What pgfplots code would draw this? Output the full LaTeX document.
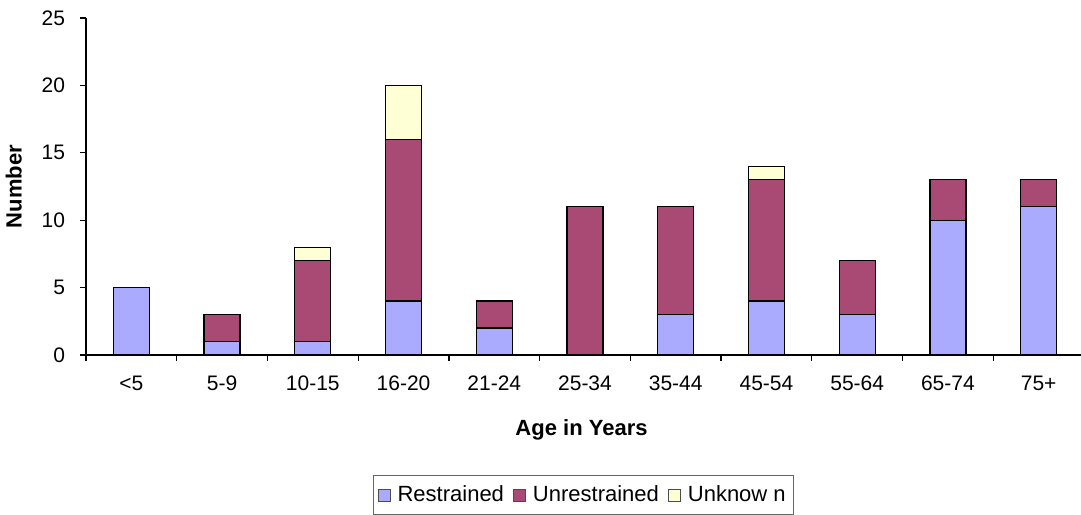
\documentclass[border=0pt]{standalone}
\usepackage{pgfplots}
\pgfplotsset{compat=1.18}
\usepackage{fontspec}
\setmainfont{Liberation Sans}
\definecolor{restr}{HTML}{AAAAFF}
\definecolor{unrestr}{HTML}{A94A74}
\definecolor{unk}{HTML}{FFFFD6}
\begin{document}
\begin{tikzpicture}
\useasboundingbox (-43bp,-80bp) rectangle (497.5bp,177.5bp);
\begin{axis}[
  at={(0,0)}, anchor=south west,
  scale only axis,
  width=499bp, height=168.5bp,
  ybar stacked,
  bar width=18bp,
  xmin=-0.5, xmax=10.5,
  ymin=0, ymax=25,
  ytick={0,5,...,25},
  xtick={0,...,10},
  xticklabels={{<5},{5-9},{10-15},{16-20},{21-24},{25-34},{35-44},{45-54},{55-64},{65-74},{75+}},
  minor xtick={-0.5,0.5,...,10.5},
  major x tick style={draw=none},
  axis x line*=bottom,
  axis y line*=left,
  axis line style={black, line width=0.6bp},
  tick style={black, line width=0.6bp},
  tick align=outside,
  major tick length=3bp,
  minor tick length=3bp,
  x tick label style={font=\fontsize{10.5bp}{12bp}\selectfont, yshift=-4bp},
  y tick label style={font=\fontsize{10.5bp}{12bp}\selectfont, xshift=-4bp},
  /pgf/number format/assume math mode=true,
  xlabel={\textbf{Age in Years}},
  ylabel={\textbf{Number}},
  xlabel style={font=\fontsize{11bp}{13bp}\selectfont, at={(axis description cs:0.4965,0)}, anchor=north, yshift=-29bp},
  ylabel style={font=\fontsize{11bp}{13bp}\selectfont, at={(axis description cs:0,0.5)}, anchor=south, yshift=28.5bp},
  legend columns=3,
  legend style={
    at={(axis description cs:0.2876,-0.356)}, anchor=north west,
    draw=gray!80!black, line width=0.6bp,
    font=\fontsize{11bp}{13bp}\selectfont,
    inner ysep=3bp, inner xsep=2bp,
    /tikz/every even column/.append style={column sep=2.5bp},
    /tikz/every odd column/.append style={column sep=1.5bp},
  },
  legend image code/.code={\draw[#1, draw=black!70, line width=0.5bp] (0bp,-3bp) rectangle (6bp,3bp);},
  every axis plot/.append style={draw=black, line width=0.6bp},
]
\addplot[fill=restr] coordinates {(0,5) (1,1) (2,1) (3,4) (4,2) (5,0) (6,3) (7,4) (8,3) (9,10) (10,11)};
\addplot[fill=unrestr] coordinates {(0,0) (1,2) (2,6) (3,12) (4,2) (5,11) (6,8) (7,9) (8,4) (9,3) (10,2)};
\addplot[fill=unk] coordinates {(0,0) (1,0) (2,1) (3,4) (4,0) (5,0) (6,0) (7,1) (8,0) (9,0) (10,0)};
\legend{Restrained,Unrestrained,Unknow n}
\end{axis}
\end{tikzpicture}
\end{document}
